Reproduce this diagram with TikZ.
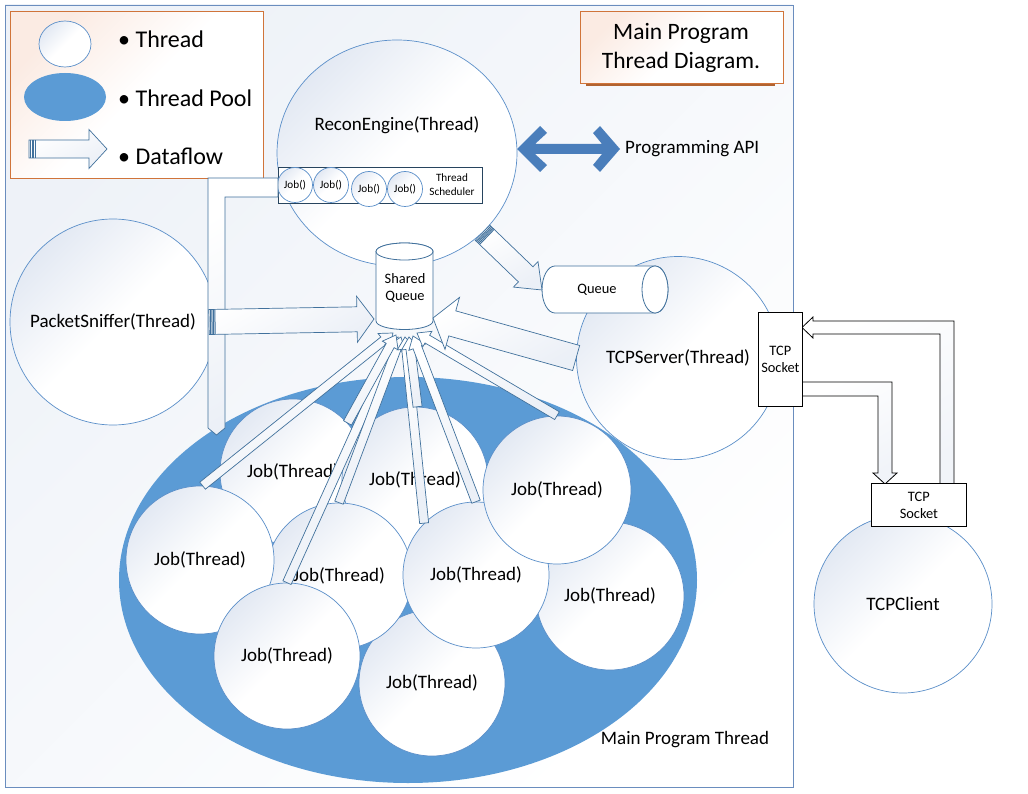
\documentclass[tikz,border=0pt]{standalone}
\usepackage{fontspec}
\setmainfont{Carlito}
\usetikzlibrary{calc,positioning,shapes.geometric}

\definecolor{framebl}{HTML}{6A8DBE}
\definecolor{linebl}{HTML}{5B8FC9}
\definecolor{poolbl}{HTML}{5B9BD5}
\definecolor{apibl}{HTML}{4A7EBB}
\definecolor{flowbl}{HTML}{41719C}
\definecolor{legor}{HTML}{D0743A}
\definecolor{legtint}{HTML}{FBEBE3}
\definecolor{bgtint}{HTML}{EEF2F8}
\definecolor{thtint}{HTML}{E3E9F3}

\newcommand{\labfont}{\fontsize{19}{23}\selectfont}
\newcommand{\legfont}{\fontsize{24}{29}\selectfont}
\newcommand{\smfont}{\fontsize{14.4}{17}\selectfont}
\newcommand{\tinyfont}{\fontsize{11.2}{14}\selectfont}

% block arrow: [opts]{tail}{tip}{half body}{half head}{head length}
\newcommand{\flowarrow}[6][]{%
  \coordinate (fa-b) at ($(#3)!#6!(#2)$);
  \draw[flow,#1] ($(#2)!#4!90:(#3)$) -- ($(fa-b)!#4!90:(#3)$) -- ($(fa-b)!#5!90:(#3)$)
    -- (#3) -- ($(fa-b)!#5!-90:(#3)$) -- ($(fa-b)!#4!-90:(#3)$) -- ($(#2)!#4!-90:(#3)$) -- cycle;
}
% striped tail of a block arrow
\newcommand{\flowtail}[3]{%
  \foreach \st in {1.5pt,3pt,4.5pt,6pt}{
    \coordinate (ft-s) at ($(#1)!\st!(#2)$);
    \draw[flowbl, line width=1pt] ($(ft-s)!#3!90:(#2)$) -- ($(ft-s)!#3!-90:(#2)$);
  }
}

\begin{document}
\begin{tikzpicture}[x=1pt, y=-1pt,
    thread/.style={circle, draw=linebl, line width=0.7pt, top color=thtint, bottom color=white, middle color=white, shading angle=45, inner sep=0pt, font=\labfont},
    job/.style={thread, minimum size=146pt},
    small job/.style={thread, minimum size=35pt, font=\tinyfont},
    flow/.style={draw=flowbl, line width=0.7pt, top color=white, bottom color=thtint!70, shading angle=30},
    sockflow/.style={draw=black, line width=0.8pt, top color=white, bottom color=thtint!50, shading angle=30},
    sock/.style={draw=black, line width=0.8pt, fill=white, font=\smfont, align=center, inner sep=0pt, anchor=north west},
    cyl/.style={draw=flowbl, line width=0.8pt, fill=white},
    legbox/.style={draw=legor, line width=1pt, top color=legtint, bottom color=white, middle color=white, shading angle=45, inner sep=0pt, anchor=north west},
    txt/.style={inner sep=0pt, align=center}
  ]
  \fill[white] (0,0) rectangle (1028,794);
  \useasboundingbox (0,0) rectangle (1028,794);
  \draw[framebl, line width=0.8pt, top color=bgtint, bottom color=white, shading angle=45] (5,5) rectangle (793,787);

  % legend
  \node[legbox, minimum width=253pt, minimum height=167pt] (leg) at (10,11) {};
  \node[thread, ellipse, minimum width=52pt, minimum height=46pt] (lg-th) at (65,44) {};
  \node[ellipse, fill=poolbl, minimum width=82pt, minimum height=48pt, inner sep=0pt] (lg-pool) at (65,97) {};
  \coordinate (lg-a) at (29,149);
  \coordinate (lg-b) at (107,149);
  \flowarrow{lg-a}{lg-b}{9pt}{19.5pt}{18pt}
  \flowtail{lg-a}{lg-b}{9pt}
  \node[anchor=west, font=\legfont, inner sep=0pt] (lg-t1) at (118,39) {\textbullet\ Thread};
  \node[anchor=west, font=\legfont, inner sep=0pt] (lg-t2) at (118,98) {\textbullet\ Thread Pool};
  \node[anchor=west, font=\legfont, inner sep=0pt] (lg-t3) at (118,156) {\textbullet\ Dataflow};

  % title
  \draw[legor!85!black, line width=1.5pt] (586,85) -- (775,85);
  \node[legbox, minimum width=203pt, minimum height=72pt] (title) at (580,11) {};
  \node[txt, font=\fontsize{23.5}{29}\selectfont] (title-t) at (681,48) {Main Program\\Thread Diagram.};

  % recon engine
  \node[thread, ellipse, minimum width=240pt, minimum height=226pt] (re) at (397,153) {};
  \node[txt, font=\labfont] (re-t) at (397,125) {ReconEngine(Thread)};
  \node[draw=flowbl!60!black, line width=0.8pt, fill=white, minimum width=204pt, minimum height=36pt, anchor=north west] (sched) at (278,167) {};
  \foreach \x/\y [count=\i] in {295/185, 331/185, 369/189, 405/189}
    \node[small job] (jb\i) at (\x,\y) {Job()};
  \node[txt, font=\tinyfont] (sched-t) at (452,185) {Thread\\Scheduler};

  \fill[apibl] (517,149) -- (540,126) -- (547,133) -- (535,144) -- (602,144) -- (593,133) -- (600,126)
    -- (620,149) -- (600,172) -- (593,165) -- (602,154) -- (535,154) -- (547,165) -- (540,172) -- cycle;
  \node[anchor=west, font=\labfont, inner sep=0pt] (api) at (625,149) {Programming API};

  % shared queue
  \filldraw[cyl] (376,251.5) -- (376,321) arc[start angle=180, end angle=360, x radius=28.5pt, y radius=8.5pt]
    -- (433,251.5) arc[start angle=0, end angle=180, x radius=28.5pt, y radius=8.5pt] -- cycle;
  \draw[cyl] (404.5,251.5) ellipse[x radius=28.5pt, y radius=8.5pt];
  \node[txt, font=\smfont] (sq) at (405,288) {Shared\\Queue};

  \node[thread, minimum size=206pt] (pkt) at (113,322) {PacketSniffer(Thread)};

  % thread pool
  \node[ellipse, fill=poolbl, minimum width=578pt, minimum height=406pt, inner sep=0pt] (pool) at (408,580) {};
  \node[txt, font=\labfont] (pool-t) at (685,740) {Main Program Thread};

  \draw[flow] (278,178) -- (208,178) -- (208,428) -- (216.5,435) -- (225,428) -- (225,197) -- (278,197) -- cycle;

  \node[thread, minimum size=203pt] (tcps) at (678,358) {TCPServer(Thread)};
  \node[thread, minimum size=178pt] (tcpc) at (903,604) {TCPClient};

  \foreach \n/\x/\y/\s in {j1/293/472/146, j2/415/480/146, j9/432/683/146, j5/339/576/146, j4/200/560/148,
      j8/287/656/146, j7/610/596/148, j6/476/575/146, j3/557/490/148}
    \node[job, minimum size=\s pt] (\n) at (\x,\y) {Job(Thread)};

  % jobs to shared queue
  \coordinate (q1) at (393,333);
  \coordinate (q2) at (398,337);
  \coordinate (q3) at (401,337);
  \coordinate (q4) at (396,335);
  \coordinate (q5) at (405,337);
  \coordinate (q6) at (409,337);
  \coordinate (q7) at (413,336);
  \coordinate (q8) at (417,333);
  \flowarrow{j4.88}{q1}{4.5pt}{9pt}{12pt}
  \flowarrow{j8.north}{q2}{4.5pt}{9pt}{12pt}
  \flowarrow{j5.north}{q3}{4.5pt}{9pt}{12pt}
  \flowarrow{j1.42}{q4}{4.5pt}{9pt}{12pt}
  \flowarrow{j6.135}{q5}{4.5pt}{9pt}{12pt}
  \flowarrow{j2.88}{q6}{4.5pt}{9pt}{12pt}
  \flowarrow{j6.north}{q7}{4.5pt}{9pt}{12pt}
  \flowarrow{j3.north}{q8}{4.5pt}{9pt}{12pt}

  \coordinate (pk-a) at (209,322);
  \coordinate (pk-b) at (374,319);
  \flowarrow{pk-a}{pk-b}{12.5pt}{23pt}{17pt}
  \flowtail{pk-a}{pk-b}{12.5pt}
  \coordinate (ts-b) at (433,318);
  \flowarrow{tcps.west}{ts-b}{13pt}{27pt}{20pt}

  % queue
  \filldraw[cyl] (555,266) -- (655,266) arc[start angle=90, end angle=-90, x radius=13pt, y radius=23.5pt]
    -- (555,313) arc[start angle=270, end angle=90, x radius=13pt, y radius=23.5pt] -- cycle;
  \draw[cyl] (655,289.5) ellipse[x radius=13pt, y radius=23.5pt];
  \node[txt, font=\smfont] (qu) at (597,290) {Queue};
  \coordinate (qu-w) at (542,290);
  \flowarrow{re.-43}{qu-w}{10.5pt}{17.7pt}{22.6pt}
  \flowtail{re.-43}{qu-w}{10.5pt}

  % tcp sockets
  \draw[sockflow] (800,382) -- (892,382) -- (892,473) -- (897,473) -- (885,484) -- (873,473) -- (878,473)
    -- (878,396) -- (800,396) -- cycle;
  \draw[sockflow] (940,485) -- (940,334) -- (813,334) -- (813,338) -- (802,327.5) -- (813,317) -- (813,321)
    -- (954,321) -- (954,485) -- cycle;
  \node[sock, minimum width=44pt, minimum height=94pt] (ss) at (758,312) {TCP\\Socket};
  \node[sock, minimum width=95pt, minimum height=43pt] (cs) at (871,483) {TCP\\Socket};
\end{tikzpicture}
\end{document}
